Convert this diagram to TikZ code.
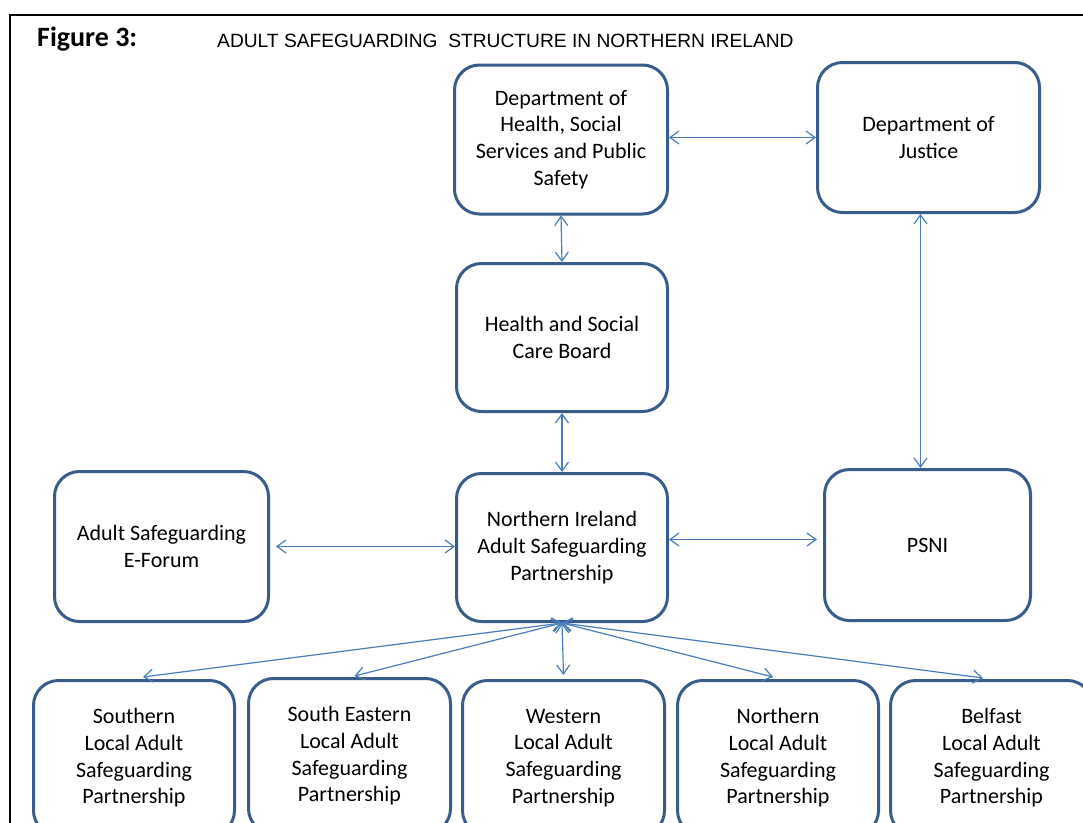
\documentclass[tikz,border=0pt]{standalone}
\usepackage{fontspec}
\setmainfont{Carlito}
\newfontfamily\arialf{Liberation Sans}
\usetikzlibrary{arrows.meta}
\definecolor{boxblue}{RGB}{56,93,138}
\definecolor{arrowblue}{RGB}{74,126,187}
\tikzset{
  orgbox/.style={draw=boxblue, line width=3pt, rounded corners=25pt, fill=white,
    align=center, inner sep=2pt, font=\fontsize{22}{26.7}\selectfont, text=black},
  link/.style={draw=arrowblue, line width=1.2pt,
    {Straight Barb[length=9pt,width=13pt]}-{Straight Barb[length=9pt,width=13pt]}},
  frame/.style={draw=black, line width=1.5pt}
}
\begin{document}
\begin{tikzpicture}[x=1pt,y=-1pt]
\useasboundingbox (0,0) rectangle (1083,822);
\clip (0,0) rectangle (1083,822);
\fill[white] (0,0) rectangle (1083,822);
% frame
\coordinate (fb) at (10,900);
\coordinate (fc) at (10,15);
\coordinate (fr) at (1200,15);
\draw[frame] (fb) -- (fc) -- (fr);
% titles
\node[anchor=base west, inner sep=0pt, font=\fontsize{28}{31}\selectfont\bfseries] (fig) at (37,46.5) {Figure 3:};
\node[anchor=base west, inner sep=0pt, font=\arialf\fontsize{19.2}{22}\selectfont] (title) at (217,47) {ADULT SAFEGUARDING\ \ STRUCTURE IN NORTHERN IRELAND};
% boxes
\node[orgbox, minimum width=213pt, minimum height=149pt] (dh) at (561,139.5) {Department of\\Health, Social\\Services and Public\\Safety};
\node[orgbox, minimum width=222pt, minimum height=150pt] (doj) at (928.5,137.5) {Department of\\Justice};
\node[orgbox, minimum width=211pt, minimum height=148pt] (hscb) at (562,337.5) {Health and Social\\Care Board};
\node[orgbox, minimum width=211pt, minimum height=148pt] (nia) at (562,547.5) {Northern Ireland\\Adult Safeguarding\\Partnership};
\node[orgbox, minimum width=214pt, minimum height=150pt] (efo) at (161.5,546.5) {Adult Safeguarding\\E-Forum};
\node[orgbox, minimum width=206pt, minimum height=151pt] (psni) at (927.5,545) {PSNI};
\node[orgbox, minimum width=201pt, minimum height=155pt] (s1) at (134,758) {Southern\\Local Adult\\Safeguarding\\Partnership};
\node[orgbox, minimum width=202pt, minimum height=155pt] (s2) at (349.5,756) {South Eastern\\Local Adult\\Safeguarding\\Partnership};
\node[orgbox, minimum width=202pt, minimum height=155pt] (s3) at (563.5,758) {Western\\Local Adult\\Safeguarding\\Partnership};
\node[orgbox, minimum width=201pt, minimum height=155pt] (s4) at (778,758) {Northern\\Local Adult\\Safeguarding\\Partnership};
\node[orgbox, minimum width=202pt, minimum height=155pt] (s5) at (991.5,758) {Belfast\\Local Adult\\Safeguarding\\Partnership};
% connectors
\draw[link] (dh.east |- doj.west) -- (doj.west);
\draw[link] (dh.south) -- (hscb.north);
\draw[link] ([xshift=-8pt]doj.south) -- ([xshift=-8pt]doj.south |- psni.north);
\draw[link] (hscb.south) -- (nia.north);
\draw[link] ([xshift=6pt]efo.east) -- (efo.east -| nia.west);
\draw[link] ([yshift=8pt]nia.east) -- ([yshift=8pt,xshift=-6pt]nia.east -| psni.west);
\draw[link] (nia.south) -- ([xshift=9pt,yshift=2pt]s1.north);
\draw[link] (nia.south) -- ([xshift=5pt,yshift=1pt]s2.north);
\draw[link] (nia.south) -- ([yshift=4pt]s3.north);
\draw[link] (nia.south) -- ([xshift=-5pt,yshift=2pt]s4.north);
\draw[link] (nia.south) -- ([xshift=-8.5pt,yshift=1pt]s5.north);
\end{tikzpicture}
\end{document}
